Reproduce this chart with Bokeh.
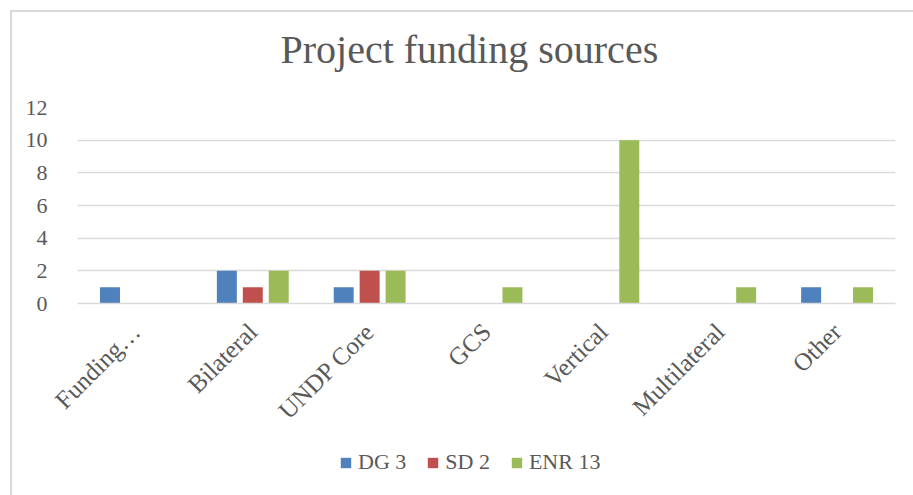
from bokeh.plotting import figure
from bokeh.models import ColumnDataSource, Legend, LegendItem, FactorRange, Range1d, FixedTicker, Spacer, Title
from bokeh.layouts import column, row
from bokeh.transform import dodge
from bokeh.embed import file_html
from bokeh.resources import INLINE
import math

categories = ["Funding…", "Bilateral", "UNDP Core", "GCS", "Vertical", "Multilateral", "Other"]
dg3 = [1, 2, 1, 0, 0, 0, 1]
sd2 = [0, 1, 2, 0, 0, 0, 0]
enr13 = [0, 2, 2, 1, 10, 1, 1]
series_names = ["DG 3", "SD 2", "ENR 13"]
y_ticks = [0, 2, 4, 6, 8, 10, 12]

colors = ["#4F81BD", "#C0504D", "#9BBB59"]
FONT = "Liberation Serif"
TXT = "#595959"

src = ColumnDataSource(dict(cat=categories, dg3=dg3, sd2=sd2, enr13=enr13))
xr = FactorRange(*categories, range_padding=0)

p = figure(x_range=xr, y_range=Range1d(0, 12),
           width=901, height=428, output_backend="svg", toolbar_location=None,
           min_border_left=65, min_border_right=18, min_border_top=95, min_border_bottom=137,
           outline_line_color=None, background_fill_color="white", border_fill_color="white")

# empty spacer between the frame and the (outermost) title
p.add_layout(Title(text=" ", text_font_size="1px", standoff=31), "above")

p.title.text = "Project funding sources"
p.title.align = "left"
p.title.offset = 203
p.title.standoff = 4
p.title.text_font = FONT
p.title.text_font_size = "40px"
p.title.text_font_style = "normal"
p.title.text_color = TXT

offsets = [-0.222, 0.0, 0.222]
cols = ["dg3", "sd2", "enr13"]
for col, off, c in zip(cols, offsets, colors):
    p.vbar(x=dodge("cat", off, range=xr), top=col, width=0.171, source=src,
           fill_color=c, line_color=None)

p.xgrid.grid_line_color = None
p.ygrid.grid_line_color = "#d9d9d9"
p.ygrid.grid_line_width = 1.5
p.yaxis.ticker = FixedTicker(ticks=y_ticks)
p.yaxis.axis_line_color = None
p.yaxis.major_tick_line_color = None
p.yaxis.minor_tick_line_color = None
p.yaxis.major_label_standoff = 24
p.yaxis.major_label_text_font = FONT
p.yaxis.major_label_text_font_size = "22px"
p.yaxis.major_label_text_color = TXT

p.xaxis.axis_line_color = "#d9d9d9"
p.xaxis.axis_line_width = 1.5
p.xaxis.major_tick_line_color = None
p.xaxis.minor_tick_line_color = None
p.xaxis.major_label_orientation = math.pi / 4
p.xaxis.major_label_standoff = 18
p.xaxis.major_label_text_font = FONT
p.xaxis.major_label_text_font_size = "25px"
p.xaxis.major_label_text_color = TXT

# legend strip: same series on the shared x range, y window above the data so only the legend shows
leg = figure(x_range=xr, y_range=Range1d(20, 21), width=901, height=55,
             output_backend="svg", toolbar_location=None, x_axis_type=None, y_axis_type=None,
             min_border=0, outline_line_color=None, border_fill_color="white",
             background_fill_color="white")
leg.xgrid.visible = False
leg.ygrid.visible = False
items = []
for n, col, off, c in zip(series_names, cols, offsets, colors):
    r = leg.vbar(x=dodge("cat", off, range=xr), top=col, width=0.171, source=src,
                 fill_color=c, line_color=None)
    items.append(LegendItem(label=n, renderers=[r]))
legend = Legend(items=items, orientation="horizontal", location=(262, 20),
                glyph_width=13, glyph_height=13, label_standoff=6, spacing=20, label_height=22,
                padding=0, margin=0, border_line_color=None, background_fill_alpha=0,
                label_text_font=FONT, label_text_font_size="22px", label_text_color=TXT)
leg.add_layout(legend, "center")

inner = column(p, leg, spacing=0)
inner.styles = {"border-left": "2px solid #d9d9d9", "border-top": "2px solid #d9d9d9"}
layout = column(Spacer(height=10), row(Spacer(width=10), inner, spacing=0), spacing=0)

open("out.html", "w").write(file_html(layout, INLINE))
